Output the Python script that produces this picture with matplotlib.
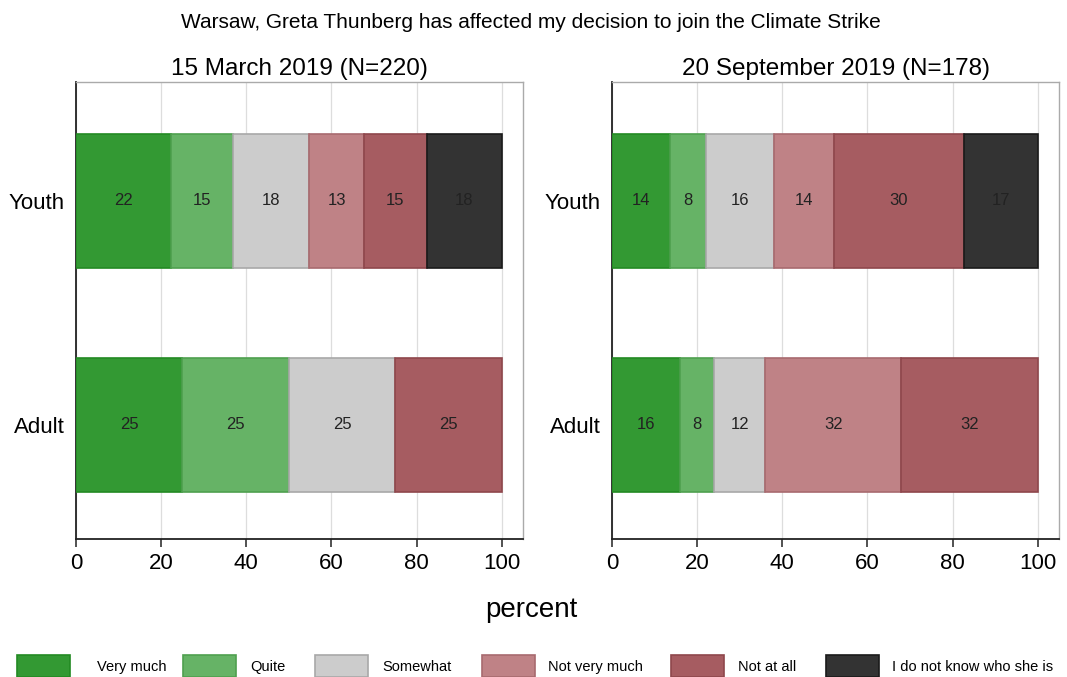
import matplotlib
matplotlib.use("Agg")
import matplotlib.pyplot as plt
from matplotlib.patches import Rectangle

plt.rcParams['font.family'] = ['Liberation Sans', 'DejaVu Sans']

categories = ["Very much", "Quite", "Somewhat", "Not very much", "Not at all",
              "I do not know who she is"]
colors = ["#339933", "#66b366", "#cccccc", "#bf8286", "#a65c61", "#333333"]
edges = ["#238a23", "#4fa04f", "#a8a8a8", "#a86a6f", "#8f474c", "#1a1a1a"]

groups = ["Adult", "Youth"]

march_youth = [22.3, 14.6, 17.9, 12.9, 14.7, 17.6]
march_adult = [25, 25, 25, 0, 25, 0]
sept_youth = [13.6, 8.4, 16.0, 14.2, 30.4, 17.4]
sept_adult = [16, 8, 12, 32, 32, 0]

panels = [
    ("15 March 2019 (N=220)", march_adult, march_youth),
    ("20 September 2019 (N=178)", sept_adult, sept_youth),
]

fig = plt.figure(figsize=(10.67, 6.77), dpi=100)
W, H = 1067, 677
ax_pos = [(76, 82, 447, 457), (612, 82, 447, 457)]

for (title, adult, youth), (x0, y0, w, h) in zip(panels, ax_pos):
    ax = fig.add_axes([x0 / W, 1 - (y0 + h) / H, w / W, h / H])
    for yi, vals in enumerate([adult, youth]):
        left = 0
        for ci, v in enumerate(vals):
            if v <= 0:
                continue
            ax.barh(yi, v, left=left, height=0.6, color=colors[ci],
                    edgecolor=edges[ci], linewidth=1.2, zorder=3)
            ax.text(left + v / 2, yi, f"{round(v):d}", ha="center", va="center",
                    fontsize=12, color="#222222", zorder=4)
            left += v
    ax.set_xlim(0, 105)
    ax.set_ylim(-0.51, 1.53)
    ax.set_xticks([0, 20, 40, 60, 80, 100])
    ax.tick_params(axis="x", labelsize=16, length=6, width=1.2, color="#333333", pad=4)
    ax.set_yticks([0, 1])
    ax.set_yticklabels(groups)
    ax.tick_params(axis="y", labelsize=16, length=0, pad=8)
    ax.grid(axis="x", color="#dddddd", linewidth=0.9, zorder=0)
    ax.set_axisbelow(True)
    for s in ["left", "bottom"]:
        ax.spines[s].set_color("#222222")
        ax.spines[s].set_linewidth(1.3)
    for s in ["top", "right"]:
        ax.spines[s].set_color("#aaaaaa")
        ax.spines[s].set_linewidth(1.0)
    ax.set_title(title, fontsize=17.5, pad=5)

fig.text(531 / W, 1 - 22 / H, "Warsaw, Greta Thunberg has affected my decision to join the Climate Strike",
         ha="center", va="center", fontsize=15)
fig.text(531 / W, 1 - 610 / H, "percent", ha="center", va="center", fontsize=20)

leg_boxes = [17, 183, 315, 482, 671, 826]
leg_text = [97, 250, 382, 548, 738, 892]
for ci, cat in enumerate(categories):
    fig.patches.append(Rectangle((leg_boxes[ci] / W, 0), 53 / W, 22 / H,
                                 transform=fig.transFigure, facecolor=colors[ci],
                                 edgecolor=edges[ci], linewidth=1.2))
    fig.text(leg_text[ci] / W, 1 - 667 / H, cat, ha="left", va="center", fontsize=10.5)

fig.savefig("out.png", dpi=100)
